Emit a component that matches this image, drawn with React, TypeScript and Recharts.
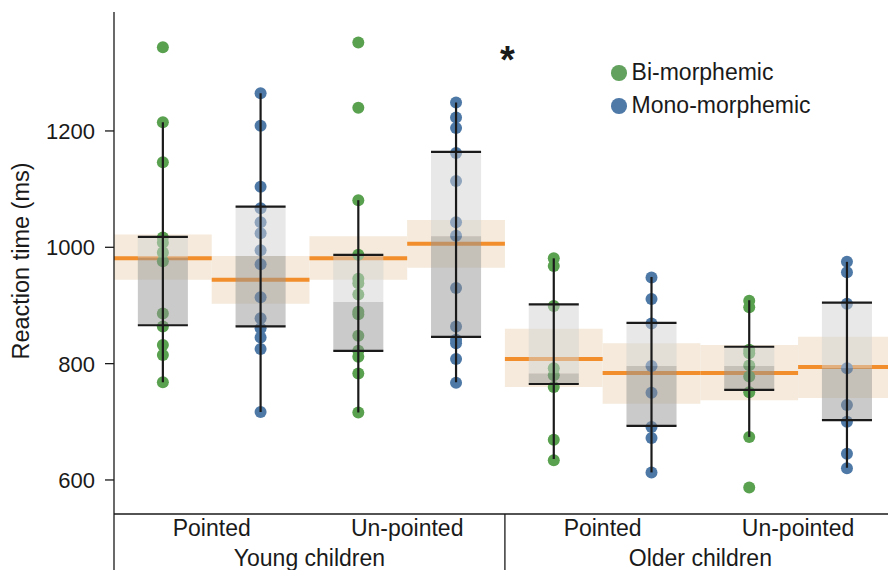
import React from "react";
import {
	ComposedChart,
	Legend,
	ReferenceArea,
	ReferenceDot,
	ReferenceLine,
	Scatter,
	XAxis,
	YAxis,
} from "recharts";

const ageGroups = ["Young children", "Older children"];
const conditions = ["Pointed", "Un-pointed"];
const series = ["Bi-morphemic", "Mono-morphemic"];

// reaction times (ms), one array per box, left to right
const youngPointedBi = [1344, 1215, 1146, 1017, 1008, 991, 976, 886, 864, 832, 815, 768];
const youngPointedMono = [1265, 1209, 1104, 1067, 1043, 1024, 995, 971, 914, 878, 861, 845, 825, 717];
const youngUnpointedBi = [1352, 1240, 1081, 987, 946, 938, 919, 889, 885, 848, 822, 812, 783, 716];
const youngUnpointedMono = [1249, 1223, 1205, 1162, 1114, 1043, 1020, 930, 864, 841, 835, 808, 767];
const olderPointedBi = [981, 968, 899, 792, 780, 760, 669, 634];
const olderPointedMono = [948, 911, 869, 796, 750, 691, 672, 613];
const olderUnpointedBi = [908, 897, 824, 818, 797, 778, 751, 674, 587];
const olderUnpointedMono = [975, 957, 903, 792, 729, 700, 645, 620];

// box statistics, same order
const q1 = [866, 864, 822, 846, 765, 693, 755, 703];
const median = [982, 985, 906, 1019, 783, 796, 796, 792];
const q3 = [1018, 1070, 987, 1164, 902, 870, 829, 905];
const whiskerLow = [768, 717, 716, 768, 636, 613, 674, 621];
const whiskerHigh = [1215, 1265, 1081, 1249, 981, 949, 909, 975];
const mean = [981, 944, 981, 1006, 808, 784, 784, 794];
const ciLow = [944, 903, 944, 965, 760, 731, 737, 741];
const ciHigh = [1022, 985, 1019, 1047, 860, 835, 832, 846];

const yTicks = [600, 800, 1000, 1200];

const boxes = [
	youngPointedBi,
	youngPointedMono,
	youngUnpointedBi,
	youngUnpointedMono,
	olderPointedBi,
	olderPointedMono,
	olderUnpointedBi,
	olderUnpointedMono,
];

const FONT = "'Liberation Sans', Arial, Helvetica, sans-serif";
const INK = "#1a1a1a";
const GREEN = "#59a14f";
const BLUE = "#4e79a7";
const ORANGE = "#f28e2b";
const BOX_HALF = 0.256;

const pointsFor = (parity: number) =>
	boxes.flatMap((vals, i) =>
		i % 2 === parity ? vals.map((v) => ({ x: i, y: v })) : [],
	);
const biPoints = pointsFor(0);
const monoPoints = pointsFor(1);

function dot(color: string) {
	return (props: any) => (
		<circle cx={props.cx} cy={props.cy} r={6} fill={color} />
	);
}

function XTick({ x, y, payload }: any) {
	const k = payload.value + 0.5;
	if (k % 4 === 0) {
		return <line x1={x} x2={x} y1={y} y2={y + 80} stroke={INK} strokeWidth={1.3} />;
	}
	if (k % 2 === 1) {
		return (
			<text x={x} y={y + 21.5} textAnchor="middle" fontSize={23} fontFamily={FONT} fill={INK}>
				{conditions[((k - 1) / 2) % 2]}
			</text>
		);
	}
	return (
		<text x={x} y={y + 51.5} textAnchor="middle" fontSize={23} fontFamily={FONT} fill={INK}>
			{ageGroups[Math.floor(k / 4)]}
		</text>
	);
}

function YTick({ x, y, payload }: any) {
	return (
		<text x={x} y={y} dy="0.36em" textAnchor="end" fontSize={22} fontFamily={FONT} fill={INK}>
			{payload.value}
		</text>
	);
}

function YLabel({ viewBox }: any) {
	const cy = viewBox.y + viewBox.height / 2 - 2;
	return (
		<text
			transform={`translate(29, ${cy}) rotate(-90)`}
			textAnchor="middle"
			fontSize={23.5}
			fontFamily={FONT}
			fill={INK}
		>
			Reaction time (ms)
		</text>
	);
}

function LegendBox() {
	const colors = ["#62a25e", "#4f7aa8"];
	return (
		<div style={{ fontFamily: FONT, fontSize: 23, color: INK, lineHeight: "33.4px" }}>
			{series.map((name, i) => (
				<div key={name} style={{ display: "flex", alignItems: "center" }}>
					<span
						style={{
							display: "inline-block",
							width: 15.6,
							height: 15.6,
							borderRadius: "50%",
							background: colors[i],
							marginRight: 5,
						}}
					/>
					{name}
				</div>
			))}
		</div>
	);
}

export default function App() {
	return (
		<div style={{ position: "absolute", left: 0, top: 0 }}>
			<ComposedChart
				width={888}
				height={600}
				margin={{ top: 12, right: 0, bottom: 0, left: 0 }}
			>
				<XAxis
					type="number"
					dataKey="x"
					domain={[-0.5, 7.42]}
					ticks={[-0.5, 0.5, 1.5, 2.5, 3.5, 4.5, 5.5, 6.5]}
					interval={0}
					tick={<XTick />}
					tickLine={false}
					tickSize={0}
					tickMargin={0}
					axisLine={{ stroke: INK, strokeWidth: 1.3 }}
					height={86}
				/>
				<YAxis
					type="number"
					dataKey="y"
					domain={[541.5, 1404.5]}
					ticks={yTicks}
					width={114}
					tickSize={9}
					tickMargin={10}
					tick={<YTick />}
					tickLine={{ stroke: INK, strokeWidth: 1.3 }}
					axisLine={{ stroke: INK, strokeWidth: 1.3 }}
					label={<YLabel />}
				/>
				<Legend
					layout="vertical"
					align="center"
					verticalAlign="middle"
					content={<LegendBox />}
					wrapperStyle={{ position: "absolute", left: 611, top: 56, width: "auto", height: "auto" }}
				/>

				{boxes.map((_, i) => (
					<ReferenceArea
						key={`ci-${i}`}
						x1={i - 0.5}
						x2={i + 0.5}
						y1={ciLow[i]}
						y2={ciHigh[i]}
						fill="#f5eadb"
						fillOpacity={1}
						stroke="none"
						ifOverflow="hidden"
						zIndex={50}
					/>
				))}
				{boxes.map((_, i) => (
					<ReferenceLine
						key={`mean-${i}`}
						segment={[
							{ x: i - 0.5, y: mean[i] },
							{ x: i + 0.5, y: mean[i] },
						]}
						stroke={ORANGE}
						strokeWidth={4}
						ifOverflow="hidden"
						zIndex={60}
					/>
				))}

				<Scatter
					name={series[0]}
					data={biPoints}
					fill={GREEN}
					shape={dot(GREEN)}
					isAnimationActive={false}
					zIndex={70}
				/>
				<Scatter
					name={series[1]}
					data={monoPoints}
					fill={BLUE}
					shape={dot(BLUE)}
					isAnimationActive={false}
					zIndex={70}
				/>

				{boxes.map((_, i) => (
					<ReferenceArea
						key={`upper-${i}`}
						x1={i - BOX_HALF}
						x2={i + BOX_HALF}
						y1={median[i]}
						y2={q3[i]}
						fill="#d1d1d1"
						fillOpacity={0.5}
						stroke="none"
						zIndex={80}
					/>
				))}
				{boxes.map((_, i) => (
					<ReferenceArea
						key={`lower-${i}`}
						x1={i - BOX_HALF}
						x2={i + BOX_HALF}
						y1={q1[i]}
						y2={median[i]}
						fill="#969696"
						fillOpacity={0.5}
						stroke="none"
						zIndex={80}
					/>
				))}

				{boxes.map((_, i) => (
					<ReferenceLine
						key={`whisker-${i}`}
						segment={[
							{ x: i, y: whiskerLow[i] },
							{ x: i, y: whiskerHigh[i] },
						]}
						stroke={INK}
						strokeWidth={2.2}
						zIndex={90}
					/>
				))}
				{boxes.flatMap((_, i) =>
					[q1[i], q3[i]].map((v, j) => (
						<ReferenceLine
							key={`cap-${i}-${j}`}
							segment={[
								{ x: i - BOX_HALF, y: v },
								{ x: i + BOX_HALF, y: v },
							]}
							stroke={INK}
							strokeWidth={2.2}
							zIndex={90}
						/>
					)),
				)}

				<ReferenceDot
					x={3.526}
					y={1332}
					r={0}
					zIndex={95}
					shape={(p: any) => (
						<text
							x={p.cx}
							y={p.cy}
							dy={19}
							textAnchor="middle"
							fontSize={38}
							fontWeight="bold"
							fontFamily={FONT}
							fill={INK}
						>
							*
						</text>
					)}
				/>
			</ComposedChart>
		</div>
	);
}
